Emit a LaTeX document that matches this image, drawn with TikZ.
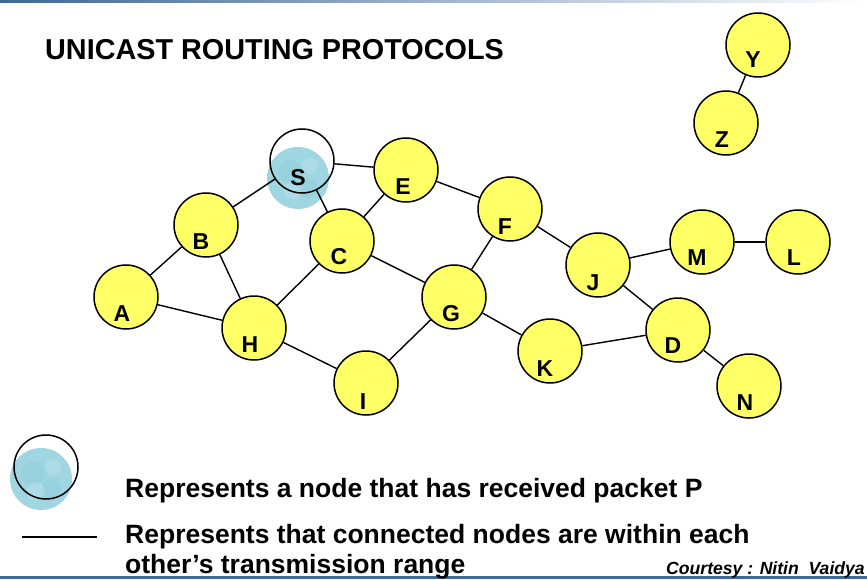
\documentclass[tikz,border=0pt]{standalone}
\usepackage{fontspec}
\setmainfont{Liberation Sans}
\begin{document}
\begin{tikzpicture}[x=1pt,y=-1pt,
  ynode/.style={circle, draw=black, line width=1.5pt, fill=nodeyellow,
    minimum size=64pt, inner sep=0pt},
  snode/.style={circle, draw=black, line width=1.5pt,
    minimum size=64pt, inner sep=0pt},
  ltr/.style={font=\fontsize{23}{23}\selectfont\bfseries, inner sep=0pt},
  link/.style={line width=1.4pt, black},
  legtext/.style={font=\fontsize{26.5}{30}\selectfont\bfseries, inner sep=0pt, anchor=base west, align=left},
  spot/.style={fill=blobdark, opacity=0.18},
  glint/.style={fill=white, opacity=0.15},
]
\definecolor{nodeyellow}{RGB}{255,255,102}
\definecolor{blobblue}{RGB}{160,214,226}
\definecolor{blobdark}{RGB}{118,188,206}
\definecolor{rulblue}{RGB}{62,104,150}

\useasboundingbox (0,0) rectangle (867,580);
\fill[white] (0,0) rectangle (867,580);

% slide rules
\shade[left color=rulblue, right color=white] (0,0) rectangle (867,2.5);
\fill[rulblue] (0,576) rectangle (867,578.5);

% title
\node[font=\fontsize{28.8}{30}\selectfont\bfseries, anchor=base west, inner sep=0pt]
  (title) at (45,60) {UNICAST ROUTING PROTOCOLS};

% received-packet blob behind S
\fill[blobblue] (298,178) circle (31);
\fill[spot] (290,172) circle (12);
\fill[spot] (308,188) circle (10);
\fill[glint] (293,190) circle (9);
\fill[glint] (310,166) circle (8);

% nodes
\node[snode] (S) at (302,161) {};
\node[ynode] (E) at (406,170) {};
\node[ynode] (B) at (206,225) {};
\node[ynode] (C) at (342,241) {};
\node[ynode] (F) at (510,209) {};
\node[ynode] (J) at (598,265) {};
\node[ynode] (M) at (702,242) {};
\node[ynode] (L) at (798,242) {};
\node[ynode] (D) at (678,330) {};
\node[ynode] (N) at (749,386) {};
\node[ynode] (K) at (550,351) {};
\node[ynode] (G) at (454,297) {};
\node[ynode] (A) at (126,297) {};
\node[ynode] (H) at (254,328) {};
\node[ynode] (I) at (366,383) {};
\node[ynode] (Y) at (758,45) {};
\node[ynode] (Z) at (726,123) {};

% node letters
\node[ltr] (tS) at (298,178) {S};
\node[ltr] (tE) at (403,187) {E};
\node[ltr] (tB) at (201,242) {B};
\node[ltr] (tC) at (339,257) {C};
\node[ltr] (tF) at (505,227) {F};
\node[ltr] (tJ) at (593,283) {J};
\node[ltr] (tM) at (697,258) {M};
\node[ltr] (tL) at (794,258) {L};
\node[ltr] (tD) at (673,346) {D};
\node[ltr] (tN) at (745,403) {N};
\node[ltr] (tK) at (545,369) {K};
\node[ltr] (tG) at (451,314) {G};
\node[ltr] (tA) at (122,314) {A};
\node[ltr] (tH) at (250,345) {H};
\node[ltr] (tI) at (363,402) {I};
\node[ltr] (tY) at (753,60) {Y};
\node[ltr] (tZ) at (722,140) {Z};

% links
\draw[link] (A) -- (B);
\draw[link] (A) -- (H);
\draw[link] (B) -- (S);
\draw[link] (B) -- (H);
\draw[link] (S) -- (E);
\draw[link] (S) -- (C);
\draw[link] (C) -- (E);
\draw[link] (C) -- (H);
\draw[link] (C) -- (G);
\draw[link] (E) -- (F);
\draw[link] (F) -- (G);
\draw[link] (F) -- (J);
\draw[link] (J) -- (M);
\draw[link] (M) -- (L);
\draw[link] (J) -- (D);
\draw[link] (D) -- (K);
\draw[link] (K) -- (G);
\draw[link] (D) -- (N);
\draw[link] (G) -- (I);
\draw[link] (H) -- (I);
\draw[link] (Y) -- (Z);

% legend
\fill[blobblue] (41,479) circle (31);
\fill[spot] (33,473) circle (12);
\fill[spot] (51,489) circle (10);
\fill[glint] (36,491) circle (9);
\fill[glint] (53,467) circle (8);
\node[snode] (legS) at (46,467) {};
\coordinate (lineA) at (22,537);
\coordinate (lineB) at (97,537);
\draw[link] (lineA) -- (lineB);

\node[legtext] (leg1) at (125,497) {Represents a node that has received packet P};
\node[legtext] (leg2) at (125,573) {Represents that connected nodes are within each\\other’s transmission range};
\node[font=\fontsize{17.6}{17.6}\selectfont\bfseries\itshape, anchor=base west, inner sep=0pt]
  (credit) at (666,574) {Courtesy : Nitin~ Vaidya};
\end{tikzpicture}
\end{document}
